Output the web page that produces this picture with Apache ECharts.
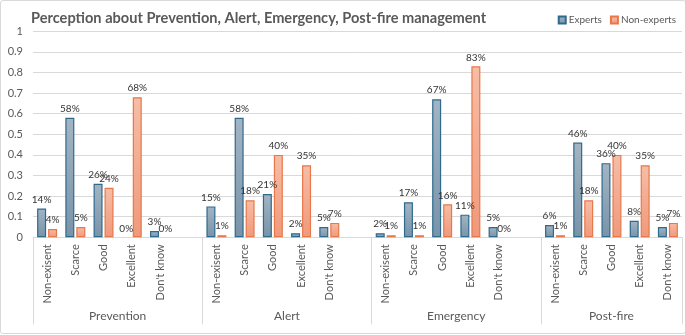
<!DOCTYPE html>
<html><head><meta charset="utf-8">
<script src="https://cdn.jsdelivr.net/npm/echarts@6/dist/echarts.min.js"></script>
<style>
html,body{margin:0;padding:0;background:#fff;overflow:hidden;}
#c{position:absolute;left:0;top:0;width:686px;height:334px;box-sizing:border-box;border:1px solid #d9d9d9;border-radius:3px;}
</style></head>
<body><div id="c"></div>
<script>
const groups = ['Prevention', 'Alert', 'Emergency', 'Post-fire'];
const levels = ['Non-exisent', 'Scarce', 'Good', 'Excellent', "Don't know"];
const expertsPrevention = [0.14, 0.58, 0.26, 0.00, 0.03];
const nonExpertsPrevention = [0.04, 0.05, 0.24, 0.68, 0.00];
const expertsAlert = [0.15, 0.58, 0.21, 0.02, 0.05];
const nonExpertsAlert = [0.01, 0.18, 0.40, 0.35, 0.07];
const expertsEmergency = [0.02, 0.17, 0.67, 0.11, 0.05];
const nonExpertsEmergency = [0.01, 0.01, 0.16, 0.83, 0.00];
const expertsPostfire = [0.06, 0.46, 0.36, 0.08, 0.05];
const nonExpertsPostfire = [0.01, 0.18, 0.40, 0.35, 0.07];
const yTicks = [0, 0.1, 0.2, 0.3, 0.4, 0.5, 0.6, 0.7, 0.8, 0.9, 1];

const expertsByGroup = [expertsPrevention, expertsAlert, expertsEmergency, expertsPostfire];
const nonByGroup = [nonExpertsPrevention, nonExpertsAlert, nonExpertsEmergency, nonExpertsPostfire];

// Build categories with a blank slot between groups
const cats = [], expData = [], nonData = [];
groups.forEach((g, gi) => {
  levels.forEach((l, li) => { cats.push(l); expData.push(expertsByGroup[gi][li]); nonData.push(nonByGroup[gi][li]); });
  if (gi < groups.length - 1) { cats.push('_blank' + gi); expData.push(null); nonData.push(null); }
});
// Secondary axis in half-slot steps (boundaryGap false) for group labels & separators
const nSlots = cats.length;
const half = [];
for (let i = 0; i <= nSlots * 2; i++) half.push('_h' + i);
const sepIdx = [0];
let start = 0;
groups.forEach((g, gi) => {
  const size = levels.length + (gi < groups.length - 1 ? 1 : 0);
  half[start * 2 + size] = g;
  start += size;
  sepIdx.push(start * 2);
});

const font = 'Lato, "Open Sans", sans-serif';
const grey = '#595959';
const zeroStyle = v => v === 0 ? { value: v, itemStyle: { borderWidth: 0 } } : v;
const chart = echarts.init(document.getElementById('c'));
chart.setOption({
  animation: false,
  textStyle: { fontFamily: font },
  title: {
    text: 'Perception about Prevention, Alert, Emergency, Post-fire management',
    left: 25, top: 5,
    textStyle: { fontFamily: font, fontSize: 14.6, fontWeight: 'bold', color: grey }
  },
  legend: {
    right: 4, top: 9, itemWidth: 7, itemHeight: 7, itemGap: 8, icon: 'rect',
    textStyle: { fontSize: 10, color: grey, padding: [0, 0, 0, -2] }
  },
  grid: { left: 32, right: 0, top: 30.3, height: 206, containLabel: false },
  xAxis: [{
    type: 'category', data: cats,
    axisLine: { lineStyle: { color: '#d9d9d9' } },
    axisTick: { show: false },
    axisLabel: {
      interval: 0, rotate: 90, margin: 7, fontSize: 11, color: grey,
      formatter: v => v.startsWith('_') ? '' : v
    }
  }, {
    type: 'category', data: half, boundaryGap: false, position: 'bottom',
    axisLine: { show: false },
    axisTick: {
      show: true, length: 87, lineStyle: { color: '#d9d9d9' },
      interval: (idx) => sepIdx.indexOf(idx) >= 0
    },
    axisLabel: {
      interval: 0, margin: 73, fontSize: 12, color: grey,
      formatter: v => v.startsWith('_') ? '' : v
    }
  }],
  yAxis: {
    type: 'value', min: yTicks[0], max: yTicks[yTicks.length - 1], interval: 0.1,
    axisLine: { show: false }, axisTick: { show: false },
    splitLine: { lineStyle: { color: '#d9d9d9' } },
    axisLabel: { margin: 10, fontSize: 11, color: grey, formatter: v => String(Math.round(v * 10) / 10) }
  },
  series: [{
    name: 'Experts', type: 'bar', data: expData.map(zeroStyle), barWidth: 9, barGap: '22%',
    itemStyle: {
      color: new echarts.graphic.LinearGradient(0, 0, 0, 1, [{ offset: 0, color: '#a3b5c4' }, { offset: 1, color: '#7893a8' }]),
      borderColor: '#2e6a8e', borderWidth: 1.2
    },
    label: { show: true, position: 'top', distance: 4, fontSize: 10, color: '#333',
      formatter: p => p.value == null ? '' : Math.round(p.value * 100) + '%' }
  }, {
    name: 'Non-experts', type: 'bar', data: nonData.map(zeroStyle), barWidth: 9,
    itemStyle: {
      color: new echarts.graphic.LinearGradient(0, 0, 0, 1, [{ offset: 0, color: '#f6bda6' }, { offset: 1, color: '#f0997a' }]),
      borderColor: '#e8784a', borderWidth: 1.2
    },
    label: { show: true, position: 'top', distance: 4, fontSize: 10, color: '#333',
      formatter: p => p.value == null ? '' : Math.round(p.value * 100) + '%' }
  }]
});
</script></body></html>
